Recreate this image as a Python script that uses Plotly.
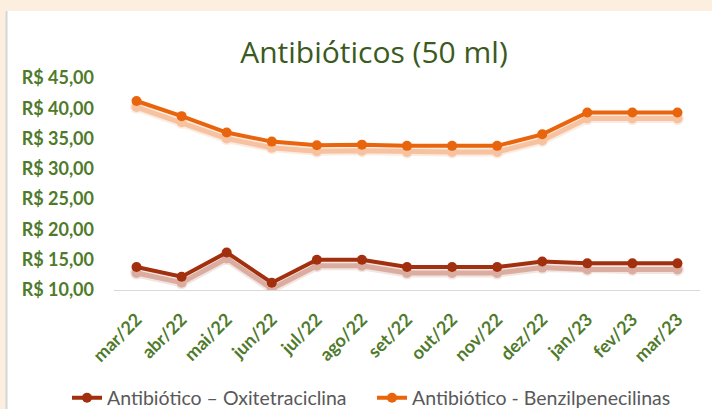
import plotly.graph_objects as go

months = ["mar/22", "abr/22", "mai/22", "jun/22", "jul/22", "ago/22", "set/22",
          "out/22", "nov/22", "dez/22", "jan/23", "fev/23", "mar/23"]
oxitetraciclina = [13.8, 12.2, 16.2, 11.2, 15.0, 15.0, 13.8, 13.8, 13.8, 14.7, 14.4, 14.4, 14.4]
benzilpenicilinas = [41.2, 38.7, 36.0, 34.5, 33.9, 34.0, 33.8, 33.8, 33.8, 35.7, 39.3, 39.3, 39.3]
ytick_vals = [10, 15, 20, 25, 30, 35, 40, 45]
ytick_text = ["R$ 10,00", "R$ 15,00", "R$ 20,00", "R$ 25,00", "R$ 30,00",
              "R$ 35,00", "R$ 40,00", "R$ 45,00"]

W, H = 712, 409
L, R, T, B = 114, 12, 78, 119
PW, PH = W - L - R, H - T - B

def px_x(px):
    return (px - L) / PW

def px_y(py):
    return (H - B - py) / PH

RED = "#A2300E"
ORANGE = "#E9650D"
GREEN = "#4F7A2B"
TITLE_GREEN = "#3A5A22"

fig = go.Figure()

# soft shadows (drawn on a shifted invisible axis)
for vals, col in [(oxitetraciclina, RED), (benzilpenicilinas, ORANGE)]:
    fig.add_trace(go.Scatter(x=months, y=vals, yaxis="y2", mode="lines+markers",
                             line=dict(color=col, width=9), marker=dict(size=13, color=col),
                             opacity=0.12, showlegend=False, hoverinfo="skip"))
    fig.add_trace(go.Scatter(x=months, y=vals, yaxis="y2", mode="lines+markers",
                             line=dict(color=col, width=5), marker=dict(size=10, color=col),
                             opacity=0.3, showlegend=False, hoverinfo="skip"))

fig.add_trace(go.Scatter(x=months, y=oxitetraciclina, mode="lines+markers",
                         name="Antibiótico – Oxitetraciclina",
                         line=dict(color=RED, width=4), marker=dict(size=10, color=RED),
                         legend="legend"))
fig.add_trace(go.Scatter(x=months, y=benzilpenicilinas, mode="lines+markers",
                         name="Antibiótico - Benzilpenecilinas",
                         line=dict(color=ORANGE, width=4), marker=dict(size=10, color=ORANGE),
                         legend="legend2"))

legend_font = dict(family="Lato", size=19.5, color="#595959")
fig.update_layout(
    width=W, height=H,
    margin=dict(l=L, r=R, t=T, b=B, autoexpand=False),
    paper_bgcolor="#FDEFDF",
    plot_bgcolor="rgba(0,0,0,0)",
    title=dict(text="Antibióticos (50 ml)", font=dict(family="Open Sans", size=30, color=TITLE_GREEN),
               x=374 / W, xanchor="center", y=1 - 52 / H, yanchor="middle"),
    xaxis=dict(type="category", range=[-0.5, 12.5], showgrid=False, zeroline=False,
               showline=True, linecolor="#D9D9D9", linewidth=1, ticks="", ticklabelstandoff=11,
               tickangle=-45, tickfont=dict(family="Lato", size=18, color=GREEN, weight="bold")),
    yaxis=dict(range=[10, 45], tickvals=ytick_vals, ticktext=ytick_text, showgrid=False,
               zeroline=False, showline=False, ticks="", ticklabelstandoff=19,
               tickfont=dict(family="Lato", size=18, color=GREEN, weight="bold")),
    yaxis2=dict(range=[11, 46], overlaying="y", visible=False),
    legend=dict(orientation="h", x=px_x(67), y=px_y(398), xanchor="left", yanchor="middle",
                font=legend_font, bgcolor="rgba(0,0,0,0)"),
    legend2=dict(orientation="h", x=px_x(372), y=px_y(398), xanchor="left", yanchor="middle",
                 font=legend_font, bgcolor="rgba(0,0,0,0)"),
    shapes=[
        dict(type="rect", xref="paper", yref="paper", x0=px_x(7), x1=px_x(W + 5),
             y0=px_y(H + 5), y1=px_y(11), fillcolor="white", line=dict(width=0), layer="below"),
        dict(type="line", xref="paper", yref="paper", x0=px_x(6.5), x1=px_x(6.5),
             y0=px_y(H + 5), y1=px_y(11), line=dict(color="#D5D5D5", width=2), layer="below"),
    ],
)

fig.write_html("out.html", config={"displayModeBar": False},
               post_script="document.body.style.margin='0px';")
